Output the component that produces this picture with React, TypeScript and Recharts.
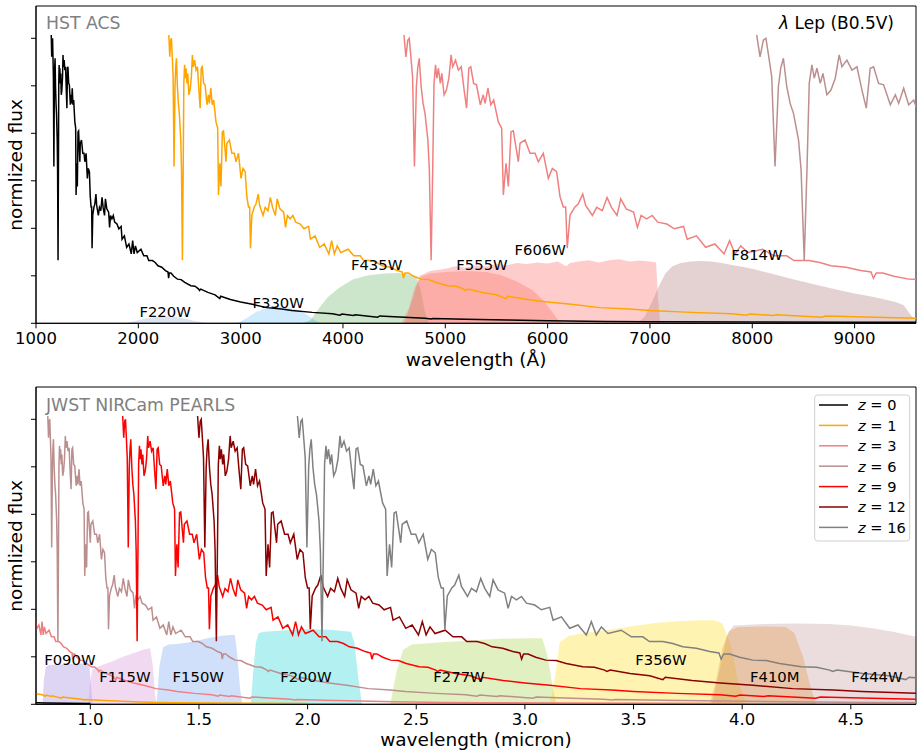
import React from 'react';
import { ComposedChart, Line, Area, XAxis, YAxis, ReferenceArea, ReferenceDot } from 'recharts';

// rest-frame spectrum of lambda Lep (B0.5V)
// wavelength in Angstrom, flux in plot units (one y tick = 1)
const REST_WAVE = [
  1149, 1153.7, 1158.3, 1161.9, 1165.2, 1170, 1174.6, 1179.3, 1182.6, 1186.3,
  1191, 1195.7, 1200.4, 1207.4, 1211, 1215.4, 1219.2, 1222.4, 1226.1, 1229.4,
  1233.1, 1237.8, 1241.5, 1247, 1252.7, 1258.7, 1264.2, 1268, 1275, 1282,
  1289, 1296, 1302, 1307.5, 1312.2, 1319.2, 1326.2, 1335.6, 1342.6, 1347.2,
  1354.2, 1361.2, 1368.2, 1379.5, 1387.7, 1391.8, 1398.3, 1404, 1410.6, 1416.2,
  1428.5, 1432.6, 1444.8, 1457, 1469.2, 1477.3, 1489.5, 1501.7, 1511.5, 1522,
  1530.2, 1538.3, 1544, 1548, 1554.7, 1566.9, 1574.6, 1585.8, 1593, 1609.4,
  1620, 1633.5, 1645.2, 1656, 1669.6, 1678.6, 1692, 1710, 1719.3, 1728.4,
  1741.8, 1755.4, 1769, 1791.4, 1809.4, 1832, 1841, 1863.6, 1886, 1908.5,
  1931, 1944.6, 1958, 1971.8, 1989.5, 2025.6, 2053, 2084, 2102, 2138,
  2165, 2192, 2229, 2265, 2290, 2296, 2303, 2319, 2346, 2382,
  2418, 2454, 2513, 2554, 2590, 2598, 2610, 2680, 2750, 2796,
  2805, 2900, 3000, 3115, 3256, 3400, 3500, 3700, 3898, 3970,
  3990, 4101, 4120, 4338, 4360, 4500, 4800, 4861, 4880, 5200,
  5600, 6000, 6563, 7000, 8000, 9000, 10000,
];
const REST_FLUX = [
  6.07, 5.61, 5.96, 6.0, 5.68, 5.19, 3.3, 4.98, 5.37, 5.58,
  4.98, 4.63, 4.42, 3.86, 3.23, 1.33, 3.23, 5.05, 5.44, 5.16,
  5.37, 5.05, 5.26, 4.81, 4.91, 5.16, 5.65, 5.4, 5.54, 5.33,
  5.4, 4.91, 4.53, 5.37, 5.4, 5.05, 5.02, 4.6, 4.81, 4.63,
  4.95, 4.6, 4.7, 4.24, 4.11, 2.7, 3.37, 2.88, 4.03, 4.05,
  3.4, 3.79, 3.86, 3.58, 3.58, 3.4, 3.58, 3.05, 3.26, 3.19,
  2.67, 2.45, 2.45, 1.58, 2.28, 2.45, 2.51, 2.72, 2.48, 2.27,
  2.44, 2.37, 2.65, 2.44, 2.27, 2.62, 2.41, 2.34, 2.02, 2.27,
  2.2, 2.27, 2.13, 2.09, 1.99, 2.04, 1.77, 1.84, 1.6, 1.67,
  1.46, 1.74, 1.46, 1.63, 1.49, 1.56, 1.42, 1.42, 1.32, 1.32,
  1.28, 1.21, 1.18, 1.11, 1.08, 0.95, 1.06, 1.06, 0.99, 0.93,
  0.92, 0.86, 0.79, 0.78, 0.72, 0.69, 0.72, 0.65, 0.6, 0.52,
  0.57, 0.5, 0.45, 0.4, 0.33, 0.3, 0.27, 0.23, 0.2, 0.17,
  0.195, 0.165, 0.18, 0.13, 0.155, 0.14, 0.105, 0.09, 0.1, 0.085,
  0.07, 0.055, 0.04, 0.035, 0.028, 0.022, 0.018,
];

const REDSHIFTS = [0, 1, 3, 6, 9, 12, 16];
const Z_COLORS = ['#000000', '#ffa500', '#f08080', '#bc8f8f', '#ff0000', '#8b0000', '#808080'];

// HST ACS/WFC3 throughputs, Angstrom
const F220W = [[1880, 0], [1950, 0.04], [2050, 0.09], [2150, 0.13], [2250, 0.15], [2350, 0.14], [2450, 0.1], [2550, 0.05], [2650, 0.01], [2700, 0]];
const F330W = [[2950, 0], [3000, 0.04], [3080, 0.14], [3150, 0.24], [3250, 0.32], [3350, 0.35], [3450, 0.34], [3550, 0.29], [3650, 0.18], [3720, 0.07], [3780, 0]];
const F435W = [[3600, 0], [3680, 0.06], [3760, 0.3], [3850, 0.55], [3970, 0.76], [4100, 0.93], [4250, 1.01], [4400, 1.05], [4550, 1.06], [4650, 1.03], [4720, 0.96], [4760, 0.7], [4800, 0.25], [4840, 0]];
const F555W = [[4570, 0], [4640, 0.3], [4700, 0.75], [4760, 0.98], [4850, 1.05], [5000, 1.08], [5200, 1.1], [5400, 1.08], [5550, 1.01], [5700, 0.88], [5850, 0.7], [5950, 0.5], [6030, 0.28], [6100, 0.08], [6150, 0]];
const F606W = [[4600, 0], [4680, 0.5], [4750, 1.0], [4850, 1.1], [5000, 1.15], [5100, 1.2], [5200, 1.17], [5300, 1.22], [5400, 1.2], [5500, 1.25], [5600, 1.22], [5700, 1.27], [5800, 1.25], [5900, 1.28], [6000, 1.26], [6100, 1.3], [6180, 1.2], [6220, 1.27], [6300, 1.3], [6400, 1.33], [6500, 1.28], [6600, 1.33], [6700, 1.35], [6800, 1.3], [6900, 1.32], [7000, 1.3], [7060, 1.28], [7080, 0.5], [7100, 0]];
const F814W = [[6880, 0], [6950, 0.15], [7020, 0.45], [7080, 0.75], [7150, 1.05], [7220, 1.2], [7300, 1.27], [7400, 1.3], [7500, 1.31], [7600, 1.3], [7700, 1.27], [7800, 1.23], [7900, 1.19], [8000, 1.15], [8200, 1.04], [8400, 0.93], [8600, 0.82], [8800, 0.72], [9000, 0.63], [9200, 0.55], [9400, 0.45], [9480, 0.38], [9540, 0.2], [9600, 0.05]];

// JWST NIRCam throughputs, micron
const F090W = [[0.78, 0], [0.786, 0.5], [0.795, 0.78], [0.81, 0.83], [0.85, 0.84], [0.9, 0.85], [0.95, 0.86], [0.995, 0.86], [1.003, 0.4], [1.01, 0]];
const F115W = [[0.99, 0], [0.998, 0.4], [1.008, 0.72], [1.03, 0.78], [1.06, 0.84], [1.1, 0.9], [1.15, 1.0], [1.2, 1.08], [1.25, 1.16], [1.275, 1.18], [1.288, 0.8], [1.298, 0.2], [1.305, 0]];
const F150W = [[1.305, 0], [1.318, 0.8], [1.335, 1.2], [1.36, 1.26], [1.4, 1.27], [1.45, 1.3], [1.5, 1.35], [1.55, 1.4], [1.6, 1.44], [1.64, 1.46], [1.665, 1.46], [1.675, 1.1], [1.69, 0.3], [1.7, 0]];
const F200W = [[1.738, 0], [1.75, 0.7], [1.762, 1.3], [1.775, 1.5], [1.8, 1.53], [1.9, 1.56], [2.0, 1.58], [2.1, 1.57], [2.2, 1.53], [2.215, 1.3], [2.235, 0.5], [2.25, 0]];
const F277W = [[2.38, 0], [2.41, 0.7], [2.44, 1.15], [2.48, 1.26], [2.6, 1.3], [2.7, 1.33], [2.8, 1.36], [2.9, 1.38], [3.0, 1.39], [3.08, 1.39], [3.105, 1.0], [3.13, 0.3], [3.145, 0]];
const F356W = [[3.115, 0], [3.14, 0.6], [3.16, 1.3], [3.2, 1.44], [3.3, 1.52], [3.4, 1.58], [3.5, 1.65], [3.6, 1.71], [3.7, 1.75], [3.8, 1.77], [3.87, 1.77], [3.91, 1.7], [3.95, 1.2], [3.98, 0.5], [4.02, 0]];
const F410M = [[3.85, 0], [3.88, 0.5], [3.91, 1.2], [3.94, 1.55], [3.98, 1.62], [4.1, 1.64], [4.2, 1.63], [4.24, 1.5], [4.28, 1.0], [4.31, 0.45], [4.34, 0]];
const F444W = [[3.86, 0], [3.9, 0.8], [3.93, 1.45], [3.96, 1.66], [4.1, 1.69], [4.25, 1.7], [4.4, 1.69], [4.5, 1.66], [4.6, 1.6], [4.7, 1.52], [4.8, 1.42]];

const HST_FILTERS = [
  { name: 'F220W', curve: F220W, color: '#b0c4de', alpha: 0.45 },
  { name: 'F330W', curve: F330W, color: '#87cefa', alpha: 0.4 },
  { name: 'F435W', curve: F435W, color: '#008000', alpha: 0.2 },
  { name: 'F606W', curve: F606W, color: '#ff0000', alpha: 0.2 },
  { name: 'F555W', curve: F555W, color: '#fa8072', alpha: 0.4 },
  { name: 'F814W', curve: F814W, color: '#bc8f8f', alpha: 0.4 },
];
const JWST_FILTERS = [
  { name: 'F090W', curve: F090W, color: '#9370db', alpha: 0.3 },
  { name: 'F115W', curve: F115W, color: '#dda0dd', alpha: 0.4 },
  { name: 'F150W', curve: F150W, color: '#6495ed', alpha: 0.3 },
  { name: 'F200W', curve: F200W, color: '#00ced1', alpha: 0.3 },
  { name: 'F277W', curve: F277W, color: '#9acd32', alpha: 0.3 },
  { name: 'F356W', curve: F356W, color: '#ffd700', alpha: 0.3 },
  { name: 'F444W', curve: F444W, color: '#bc8f8f', alpha: 0.3 },
  { name: 'F410M', curve: F410M, color: '#e08a30', alpha: 0.3 },
];

// filter name anchors (data coords)
const HST_LABELS = [['F220W', 2262, 0.25], ['F330W', 3367, 0.43], ['F435W', 4329, 1.23], ['F555W', 5359, 1.23], ['F606W', 5928, 1.54], ['F814W', 8046, 1.45]];
const JWST_LABELS = [['F090W', 0.906, 0.94], ['F115W', 1.159, 0.58], ['F150W', 1.497, 0.58], ['F200W', 1.992, 0.58], ['F277W', 2.697, 0.57], ['F356W', 3.626, 0.94], ['F410M', 4.15, 0.58], ['F444W', 4.62, 0.58]];

const HST_TICKS = [1000, 2000, 3000, 4000, 5000, 6000, 7000, 8000, 9000];
const JWST_TICKS = [1.0, 1.5, 2.0, 2.5, 3.0, 3.5, 4.0, 4.5];
const Y_TICKS = [0, 1, 2, 3, 4, 5, 6];
const Y_MAX = 6.68;
const PLOT_H = 317.3;

const toPts = (curve) => curve.map(([x, y]) => ({ x, y }));

// redshift the rest spectrum and keep the part inside [lo, hi] (+1 point each side)
function shifted(z, unit, lo, hi) {
  const pts = REST_WAVE.map((w, i) => ({ x: (w * (1 + z)) / unit, y: REST_FLUX[i] }));
  if (pts[0].x > hi || pts[pts.length - 1].x < lo) return [];
  let a = pts.findIndex((p) => p.x >= lo);
  let b = pts.length - 1;
  while (b > 0 && pts[b].x > hi) b--;
  return pts.slice(Math.max(0, a - 1), Math.min(pts.length, b + 2));
}

function Panel({ xMin, xMax, unit, ticks, fmt, filters, labels, xLabel, height, top, labelOffset }) {
  return (
    <ComposedChart width={917} height={height} margin={{ top, right: 1, left: 0, bottom: 0 }}>
      <XAxis
        type="number"
        dataKey="x"
        domain={[xMin, xMax]}
        ticks={ticks}
        tickFormatter={fmt}
        allowDataOverflow
        height={height - top - PLOT_H}
        tickSize={5}
        tickMargin={3.5}
        stroke="#000"
        tick={{ fill: '#000', fontSize: 16.5 }}
        label={{ value: xLabel, position: 'insideBottom', offset: labelOffset, fill: '#000', fontSize: 18.5 }}
      />
      <YAxis
        type="number"
        domain={[0, Y_MAX]}
        ticks={Y_TICKS}
        tickFormatter={() => ''}
        allowDataOverflow
        width={36}
        tickSize={5}
        stroke="#000"
      />
      {filters.map((f) => (
        <Area
          key={f.name}
          data={toPts(f.curve)}
          dataKey="y"
          type="linear"
          stroke="none"
          fill={f.color}
          fillOpacity={f.alpha}
          baseValue={0}
          isAnimationActive={false}
        />
      ))}
      {REDSHIFTS.map((z, i) => (
        <Line
          key={z}
          data={shifted(z, unit, xMin, xMax)}
          dataKey="y"
          type="linear"
          stroke={Z_COLORS[i]}
          strokeWidth={1.5}
          dot={false}
          isAnimationActive={false}
        />
      ))}
      {labels.map(([name, x, y]) => (
        <ReferenceDot
          key={name}
          x={x}
          y={y}
          r={0}
          fill="none"
          stroke="none"
          label={{ value: name, position: 'center', fill: '#000', fontSize: 14.8 }}
        />
      ))}
      <ReferenceArea x1={xMin} x2={xMax} y1={0} y2={Y_MAX} fill="none" stroke="#000" strokeWidth={1} />
    </ComposedChart>
  );
}

export default function App() {
  return (
    <div style={{ position: 'relative', width: 917, height: 752, fontFamily: 'DejaVu Sans, sans-serif', background: '#fff' }}>
      <style>{'body{margin:0}'}</style>
      <Panel
        xMin={1000}
        xMax={9600}
        unit={1}
        ticks={HST_TICKS}
        fmt={(v) => String(v)}
        filters={HST_FILTERS}
        labels={HST_LABELS}
        xLabel="wavelength (Å)"
        height={380}
        top={6}
        labelOffset={14}
      />
      <Panel
        xMin={0.75}
        xMax={4.8}
        unit={10000}
        ticks={JWST_TICKS}
        fmt={(v) => v.toFixed(1)}
        filters={JWST_FILTERS}
        labels={JWST_LABELS}
        xLabel="wavelength (micron)"
        height={372}
        top={7}
        labelOffset={6}
      />
      <svg width={917} height={752} style={{ position: 'absolute', left: 0, top: 0, pointerEvents: 'none' }}>
        <text x={46} y={29.3} fontSize={17.3} fill="#808080">HST ACS</text>
        <text x={46} y={411} fontSize={17.3} fill="#808080">JWST NIRCam PEARLS</text>
        <text x={894} y={29.3} fontSize={17} fill="#000" textAnchor="end">
          <tspan fontStyle="italic">λ</tspan> Lep (B0.5V)
        </text>
        <text transform="translate(21.5,165) rotate(-90)" fontSize={18.5} textAnchor="middle" fill="#000">normlized flux</text>
        <text transform="translate(21.5,546) rotate(-90)" fontSize={18.5} textAnchor="middle" fill="#000">normlized flux</text>
        <g transform="translate(814.7,395)">
          <rect x={0} y={0} width={95} height={146} rx={3} fill="#fff" fillOpacity={0.8} stroke="#d0d0d0" />
          {REDSHIFTS.map((z, i) => (
            <g key={z} transform={`translate(0,${10 + i * 20.4})`}>
              <line x1={4.3} x2={33.3} y1={0} y2={0} stroke={Z_COLORS[i]} strokeWidth={1.5} />
              <text x={43.3} y={5.3} fontSize={14.6} fill="#000">
                <tspan fontStyle="italic">z</tspan> = {z}
              </text>
            </g>
          ))}
        </g>
      </svg>
    </div>
  );
}
